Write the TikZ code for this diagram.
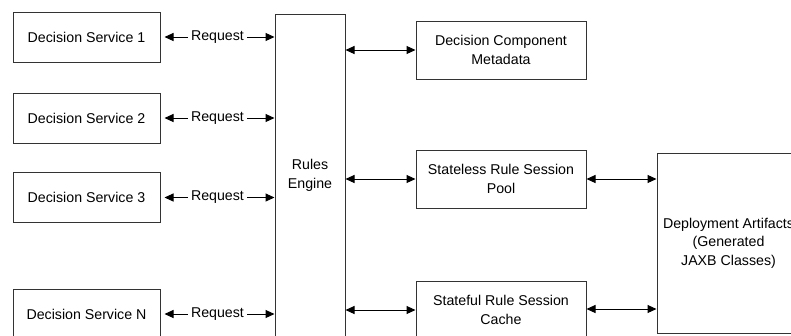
\documentclass[tikz,border=0pt]{standalone}
\usepackage{fontspec}
\setmainfont{Liberation Sans}
\usetikzlibrary{arrows.meta, positioning}

\begin{document}
\begin{tikzpicture}[
    x=1pt, y=-1pt,
    >={Triangle[length=9pt, width=8pt]}, % filled arrow tips
    font=\fontsize{14.2}{18.5}\selectfont,
    box/.style={draw=black!80, line width=1pt, align=center, inner sep=2pt}, % plain box
    service/.style={box, minimum width=147pt, minimum height=50pt}, % decision services
    store/.style={box, minimum width=170pt, minimum height=58pt}, % session boxes
    link/.style={<->, line width=1pt}, % two-way connector
    reqlabel/.style={fill=white, inner xsep=3pt, inner ysep=1pt} % label on a connector
]
    \useasboundingbox (0,0) rectangle (791,335);
    \clip (0,0) rectangle (791,335);

    % Decision services
    \node[service] (ds1) at (86.5, 37)  {Decision Service 1};
    \node[service] (ds2) at (86.5, 118) {Decision Service 2};
    \node[service] (ds3) at (86.5, 197.5) {Decision Service 3};
    \node[service] (dsN) at (86.5, 314) {Decision Service N};

    % Engine
    \node[box, minimum width=70pt, minimum height=323pt] (rules) at (310, 175.5) {Rules\\Engine};

    % Engine resources
    \node[store] (meta)      at (501, 50)  {Decision Component\\Metadata};
    \node[store] (stateless) at (501, 179) {Stateless Rule Session\\Pool};
    \node[store] (stateful)  at (501, 310) {Stateful Rule Session\\Cache};

    % Artifacts (cut off at the right)
    \node[box, minimum width=143pt, minimum height=180pt] (deploy) at (728.5, 243)
        {Deployment Artifacts\\(Generated\\JAXB Classes)};

    % Requests from the services
    \foreach \ds in {ds1, ds2, ds3, dsN}
        \draw[link, shorten <=4pt] (\ds.east) -- (\ds.east -| rules.west)
            node[midway, reqlabel] {Request};

    % Engine to resources
    \foreach \res in {meta, stateless, stateful}
        \draw[link] (\res.west -| rules.east) -- (\res.west);

    % Sessions to artifacts
    \draw[link] (stateless.east) -- (stateless.east -| deploy.west);
    \draw[link] ([yshift=1pt]stateful.east) -- ([yshift=1pt]stateful.east -| deploy.west);

\end{tikzpicture}
\end{document}
